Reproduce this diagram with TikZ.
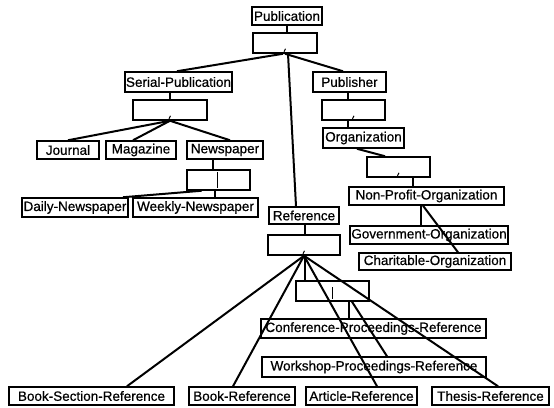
\documentclass[tikz,border=0pt]{standalone}
\usepackage{fontspec}
\setmainfont{Liberation Sans}
\newfontfamily\boxfont[FakeBold=0.6]{Liberation Sans}
\begin{document}
\begin{tikzpicture}[x=1pt,y=-1pt,
  frame/.style={draw=black, line width=1.5pt, fill=white, inner sep=0pt},
  lbl/.style 2 args={frame, minimum width=#1pt, minimum height=#2pt,
    font=\boxfont\fontsize{13.5}{13.5}\selectfont},
  jn/.style 2 args={frame, minimum width=#1pt, minimum height=#2pt},
  link/.style={draw=black, line width=2pt},
  tickline/.style={draw=black, line width=1pt}
]
\useasboundingbox[fill=white] (0,0) rectangle (554,407);

% class boxes and junction boxes
\node[lbl={70}{18}] (pub) at (287,16) {Publication};
\node[jn={64}{20}] (j1) at (285,43) {};
\node[lbl={107}{20}] (serial) at (178.5,82) {Serial-Publication};
\node[jn={74}{20}] (j2) at (170,110) {};
\node[lbl={73}{20}] (publisher) at (349.5,82) {Publisher};
\node[jn={63}{20}] (j3) at (353.5,110) {};
\node[lbl={81}{20}] (org) at (363.5,138) {Organization};
\node[jn={63}{20}] (j4) at (398.5,167) {};
\node[lbl={62}{18}] (journal) at (68,150) {Journal};
\node[lbl={70}{18}] (magazine) at (141,150) {Magazine};
\node[lbl={76}{18}] (newspaper) at (225,150) {Newspaper};
\node[jn={63}{20}] (j5) at (218.5,180) {};
\node[lbl={106}{19}] (daily) at (75,207.5) {Daily-Newspaper};
\node[lbl={125}{19}] (weekly) at (195.5,207.5) {Weekly-Newspaper};
\node[lbl={70}{17}] (reference) at (304,215.5) {Reference};
\node[jn={72}{20}] (j6) at (304,245) {};
\node[lbl={155}{18}] (npo) at (426.5,196) {Non-Profit-Organization};
\node[lbl={158}{18}] (gov) at (429,235) {Government-Organization};
\node[lbl={152}{17}] (char) at (435,261.5) {Charitable-Organization};
\node[jn={73}{20}] (j7) at (332.5,291) {};
\node[lbl={225}{19}] (conf) at (373.5,328.5) {Conference-Proceedings-Reference};
\node[lbl={224}{20}] (work) at (374,367) {Workshop-Proceedings-Reference};
\node[lbl={165}{18}] (bsr) at (91.5,396) {Book-Section-Reference};
\node[lbl={106}{18}] (br) at (242,396) {Book-Reference};
\node[lbl={111}{18}] (ar) at (361.5,396) {Article-Reference};
\node[lbl={117}{18}] (tr) at (490.5,396) {Thesis-Reference};

% small marks inside the junction boxes
\foreach \j in {j1,j2,j3,j4,j6}
  \draw[tickline] ([xshift=-1pt,yshift=2pt]\j.south) -- ++(1.5pt,3pt);
\draw[tickline] ([xshift=-1pt,yshift=3pt]j5.south) -- ([xshift=-1pt,yshift=-3pt]j5.north);
\draw[tickline] ([yshift=3pt]j7.south) -- ([yshift=-7pt]j7.north);

% connectors
\draw[link] (pub.south) -- ([xshift=2pt]j1.north);
\draw[link] ([xshift=-2pt]j1.south) -- ([xshift=-1.5pt]serial.north);
\draw[link] (j1.south) -- ([xshift=-6.5pt]publisher.north);
\draw[link] ([xshift=3pt]j1.south) -- ([xshift=-8pt]reference.north);

\draw[link] (j2.north |- serial.south) -- (j2.north);
\draw[link] (j2.south) -- (journal.north);
\draw[link] (j2.south) -- ([xshift=-8pt]magazine.north);
\draw[link] (j2.south) -- ([xshift=5pt]newspaper.north);
\draw[link] ([xshift=-5.5pt]j5.north |- newspaper.south) -- ([xshift=-5.5pt]j5.north);
\draw[link] ([xshift=-17pt]j5.south) -- ([xshift=48pt]daily.north);
\draw[link] ([xshift=-3.5pt]j5.south) -- ([xshift=-3.5pt]j5.south |- weekly.north);

\draw[link] ([xshift=-5.5pt]j3.north |- publisher.south) -- ([xshift=-5.5pt]j3.north);
\draw[link] ([xshift=-5.5pt]j3.south) -- ([xshift=-5.5pt]j3.south |- org.north);
\draw[link] ([xshift=-6.5pt]org.south) -- ([xshift=-13.5pt]j4.north);
\draw[link] ([xshift=14.5pt]j4.south) -- ([xshift=14.5pt]j4.south |- npo.north);
\draw[link] ([xshift=-5.5pt]npo.south) -- ([xshift=-5.5pt]npo.south |- gov.north);
\draw[link] ([xshift=-3.5pt]npo.south) -- ([xshift=23pt]char.north);

\draw[link] ([xshift=1pt]reference.south) -- ([xshift=1pt]j6.north);
\draw[link] ([xshift=1pt]j6.south) -- ([xshift=1pt]j6.south |- j7.north);
\draw[link] (j6.south) -- ([xshift=35.5pt]bsr.north);
\draw[link] (j6.south) -- ([xshift=-9pt]br.north);
\draw[link] (j6.south) -- ([xshift=15.5pt]ar.north);
\draw[link] (j6.south) -- ([xshift=7.5pt]tr.north);
\draw[link] ([xshift=16.5pt]j7.south) -- ([xshift=16.5pt]j7.south |- conf.north);
\draw[link] ([xshift=19.5pt]j7.south) -- ([xshift=13pt]work.north);
\end{tikzpicture}
\end{document}
